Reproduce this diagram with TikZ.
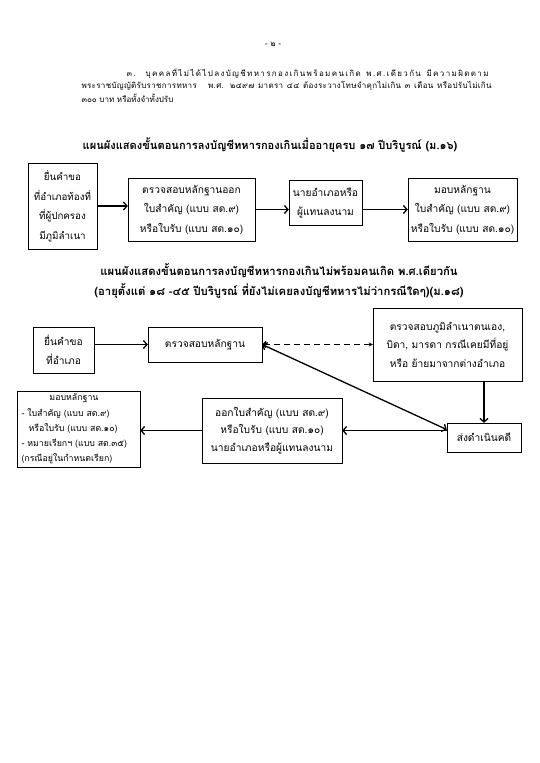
\documentclass[tikz,border=0pt]{standalone}
\usepackage{fontspec}
\setmainfont[Script=Thai]{Loma}
\usetikzlibrary{arrows.meta}
\tikzset{stepbox/.style={draw,thin,align=center,inner sep=2pt},
 flow/.style={-{Straight Barb[length=3.5pt,width=8pt]},line width=1.3pt},
 every node/.style={font=\fontsize{10.2}{19.5}\selectfont}}

\begin{document}
\begin{tikzpicture}[x=1pt,y=-1pt]
\useasboundingbox (0,0) rectangle (540,763);
\node[font=\fontsize{8}{9}\selectfont] (page) at (273,44) {- ๒ -};
\node[anchor=west,font=\fontsize{8}{9}\selectfont\addfontfeature{LetterSpace=17}] (para1) at (123,73) {\makebox[362pt][s]{๓. บุคคลที่ไม่ได้ไปลงบัญชีทหารกองเกินพร้อมคนเกิด พ.ศ.เดียวกัน มีความผิดตาม}};
\node[anchor=west,font=\fontsize{8}{9}\selectfont\addfontfeature{LetterSpace=4}] (para2) at (78,86) {\makebox[410pt][s]{พระราชบัญญัติรับราชการทหาร \ \ พ.ศ. ๒๔๙๗ มาตรา ๔๔ ต้องระวางโทษจำคุกไม่เกิน ๓ เดือน หรือปรับไม่เกิน}};
\node[anchor=west,font=\fontsize{8}{9}\selectfont] (para3) at (78,98) {๓๐๐ บาท หรือทั้งจำทั้งปรับ};
\node[font=\fontsize{11.1}{20}\selectfont\bfseries] (title1) at (270,145) {แผนผังแสดงขั้นตอนการลงบัญชีทหารกองเกินเมื่ออายุครบ ๑๗ ปีบริบูรณ์ (ม.๑๖)};
% first chart
\node[stepbox,minimum width=69,minimum height=86,font=\fontsize{9.8}{19.5}\selectfont] (apply) at (62.5,206) {ยื่นคำขอ\\ที่อำเภอท้องที่\\ที่ผู้ปกครอง\\มีภูมิลำเนา};
\node[stepbox,minimum width=127,minimum height=63] (check) at (191.5,209.5) {ตรวจสอบหลักฐานออก\\ใบสำคัญ (แบบ สด.๙)\\หรือใบรับ (แบบ สด.๑๐)};
\node[stepbox,minimum width=73,minimum height=45] (sign) at (325.5,203) {นายอำเภอหรือ\\ผู้แทนลงนาม};
\node[stepbox,minimum width=109,minimum height=63] (deliver) at (462.5,209.5) {มอบหลักฐาน\\ใบสำคัญ (แบบ สด.๙)\\หรือใบรับ (แบบ สด.๑๐)};
\draw[flow] (apply.east) -- (apply.east -| check.west);
\draw[flow] (check.east) -- (check.east -| sign.west);
\draw[flow] (sign.east |- deliver.west) -- (deliver.west);
\node[font=\fontsize{11.3}{20}\selectfont\bfseries,align=center] (title2) at (279,281) {แผนผังแสดงขั้นตอนการลงบัญชีทหารกองเกินไม่พร้อมคนเกิด พ.ศ.เดียวกัน\\(อายุตั้งแต่ ๑๘ -๔๕ ปีบริบูรณ์ ที่ยังไม่เคยลงบัญชีทหารไม่ว่ากรณีใดๆ)(ม.๑๘)};
% second chart
\node[stepbox,minimum width=61,minimum height=46] (apply2) at (63.5,350) {ยื่นคำขอ\\ที่อำเภอ};
\node[stepbox,minimum width=114,minimum height=35] (check2) at (205,344.5) {ตรวจสอบหลักฐาน};
\node[stepbox,minimum width=149,minimum height=73,font=\fontsize{10.2}{18.5}\selectfont] (domicile) at (447.5,344.5) {ตรวจสอบภูมิลำเนาตนเอง,\\บิดา, มารดา กรณีเคยมีที่อยู่\\หรือ ย้ายมาจากต่างอำเภอ};
\node[stepbox,minimum width=74,minimum height=29] (court) at (484,437.5) {ส่งดำเนินคดี};
\node[stepbox,minimum width=140,minimum height=65,font=\fontsize{10.2}{17.5}\selectfont] (issue) at (272,430.5) {ออกใบสำคัญ (แบบ สด.๙)\\หรือใบรับ (แบบ สด.๑๐)\\นายอำเภอหรือผู้แทนลงนาม};
\node[stepbox,align=left,text width=114,minimum height=72,inner xsep=4.5pt,inner ysep=2.5pt,font=\fontsize{8.8}{15.3}\selectfont] (handover) at (78.5,429) {\hspace*{28pt}มอบหลักฐาน\\- ใบสำคัญ (แบบ สด.๙)\\\hspace*{7pt}หรือใบรับ (แบบ สด.๑๐)\\- หมายเรียกฯ (แบบ สด.๓๕)\\(กรณีอยู่ในกำหนดเรียก)};
\draw[flow] (apply2.east |- check2.west) -- (check2.west);
\draw[flow,{Straight Barb[length=3pt,width=6pt]}-{Stealth[length=4pt,width=4pt]},dash pattern=on 6pt off 4pt] (check2.east) -- (domicile.west);
\draw[flow,{Straight Barb[length=3.5pt,width=8pt]}-{Straight Barb[length=3.5pt,width=8pt]}] (check2.east) -- (court.168);
\draw[flow] (domicile.south -| court.north) -- (court.north);
\draw[flow] (court.west |- issue.east) -- (issue.east);
\draw[flow] (issue.west) -- (issue.west -| handover.east);
\end{tikzpicture}
\end{document}
